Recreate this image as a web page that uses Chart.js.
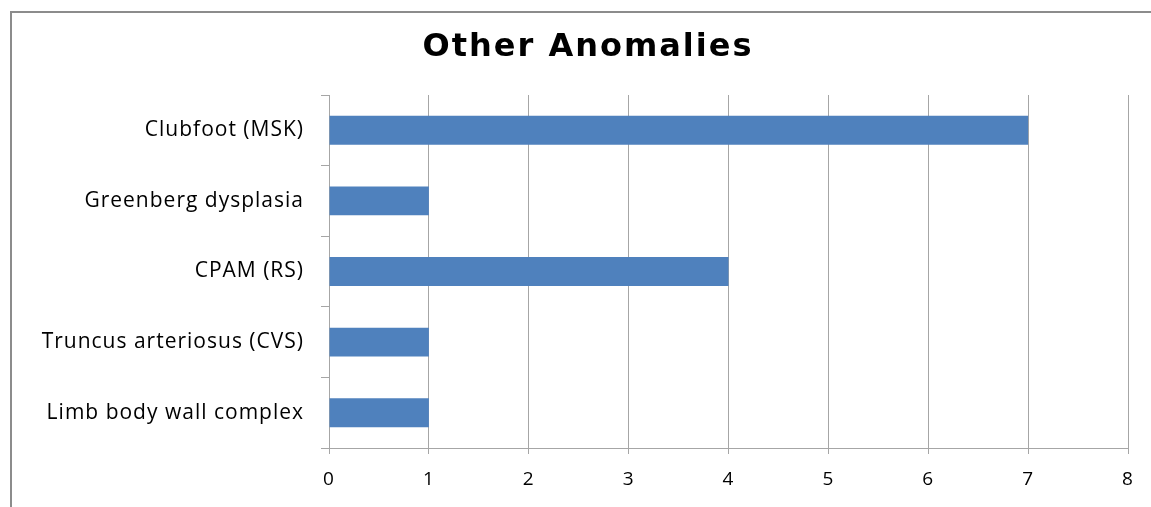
<!DOCTYPE html>
<html>
<head>
<meta charset="utf-8">
<script src="https://cdn.jsdelivr.net/npm/chart.js@4.4.1/dist/chart.umd.min.js"></script>
<style>
    html, body { margin: 0; padding: 0; background: #fff; }
    #wrap { position: relative; width: 1151px; height: 507px; }
    #frame {
        position: absolute; left: 10px; top: 11px; right: -10px; bottom: -10px;
        border-left: 2px solid #8c8c8c; border-top: 2px solid #8c8c8c;
    }
    canvas { position: absolute; left: 0; top: 0; }
</style>
</head>
<body>
<div id="wrap">
    <div id="frame"></div>
    <canvas id="chart" width="1151" height="507"></canvas>
</div>
<script>
const chartTitle = 'Other Anomalies';
const categories = [
    'Clubfoot (MSK)',
    'Greenberg dysplasia',
    'CPAM (RS)',
    'Truncus arteriosus (CVS)',
    'Limb body wall complex'
];
const counts = [7, 1, 4, 1, 1];
const xTicks = [0, 1, 2, 3, 4, 5, 6, 7, 8];

const gridColor = '#a6a6a6';

// slightly spaced-out text like the original export
const spacingPlugin = {
    id: 'spacing',
    beforeLayout(chart) { chart.ctx.letterSpacing = '1px'; },
    beforeDraw(chart) { chart.ctx.letterSpacing = '1px'; }
};

// title drawn by hand so it can get its own letter spacing
const titlePlugin = {
    id: 'wideTitle',
    afterDraw(chart) {
        const c = chart.ctx;
        c.save();
        c.letterSpacing = '2px';
        c.font = 'bold 32px "DejaVu Sans"';
        c.fillStyle = '#000';
        c.textAlign = 'center';
        c.textBaseline = 'alphabetic';
        c.fillText(chartTitle, 588, 56);
        c.restore();
    }
};

document.addEventListener('DOMContentLoaded', function() {
    const ctx = document.getElementById('chart').getContext('2d');

    new Chart(ctx, {
        type: 'bar',
        data: {
            labels: categories,
            datasets: [{
                data: counts,
                backgroundColor: '#4f81bd',
                borderWidth: 0,
                categoryPercentage: 1,
                barPercentage: 0.41
            }]
        },
        plugins: [spacingPlugin, titlePlugin],
        options: {
            indexAxis: 'y',
            responsive: false,
            animation: false,
            layout: { padding: { left: 0, right: 23, top: 95, bottom: 0 } },
            plugins: {
                legend: { display: false },
                tooltip: { enabled: false },
                title: { display: false }
            },
            scales: {
                x: {
                    min: 0,
                    max: 8,
                    afterBuildTicks: function(axis) {
                        axis.ticks = xTicks.map(v => ({ value: v }));
                    },
                    afterFit: function(axis) { axis.height = 59; },
                    grid: { color: gridColor, lineWidth: 1, tickLength: 6 },
                    border: { color: gridColor },
                    ticks: { color: '#000', font: { family: 'Open Sans', size: 19 }, padding: 14 }
                },
                y: {
                    afterFit: function(axis) { axis.width = 329; },
                    grid: { drawOnChartArea: false, color: gridColor, tickLength: 8 },
                    border: { color: gridColor },
                    ticks: { color: '#000', font: { family: 'Open Sans', size: 21 }, padding: 17 }
                }
            }
        }
    });
});
</script>
</body>
</html>
